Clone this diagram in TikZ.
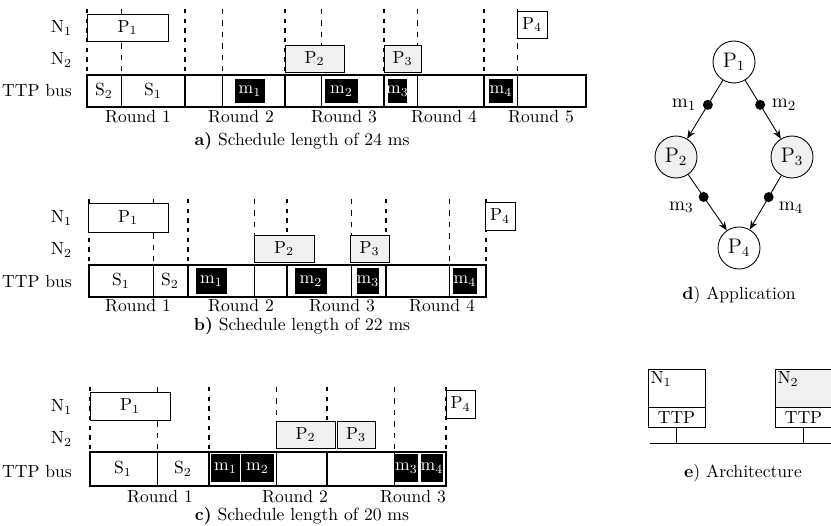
\documentclass[tikz,border=0pt]{standalone}
\usepackage{amsmath}
\usetikzlibrary{arrows.meta, fit, positioning}

\newcommand{\ptask}[1]{$\mathrm{P}_{#1}$}
\newcommand{\mmsg}[1]{$\mathrm{m}_{#1}$}
\newcommand{\slt}[1]{$\mathrm{S}_{#1}$}
\newcommand{\nde}[1]{$\mathrm{N}_{#1}$}

\tikzset{
  proc/.style={draw, fill=white, inner sep=0pt, line width=0.5pt, label={center:#1}},
  proc/.default={},
  procg/.style={proc=#1, fill=gray!12},
  procg/.default={},
  msg/.style={fill=black, inner sep=0pt, label={[text=white]center:#1}},
  rowlbl/.style={anchor=east, inner sep=1pt},
  rndline/.style={line width=1.1pt, dash pattern=on 2.5pt off 3pt},
  slotline/.style={line width=0.4pt, dash pattern=on 3pt off 3.5pt},
  rndbar/.style={line width=1pt},
  slotbar/.style={line width=0.4pt},
  task/.style={circle, draw, minimum size=0.84cm, inner sep=0pt, line width=0.5pt,
    font=\fontsize{12}{13}\selectfont},
  dot/.style={circle, fill=black, minimum size=0.2cm, inner sep=0pt},
  flow/.style={-{Stealth[length=5pt,width=4pt]}, line width=0.5pt},
}

\begin{document}
\begin{tikzpicture}[x=0.02cm, y=-0.02cm, font=\fontsize{10}{11}\selectfont]
        \useasboundingbox (0,0) rectangle (831,526);

        % a) Schedule of 24 ms
        \node[rowlbl] (a-n1) at (74,28) {\nde{1}};
        \node[rowlbl] (a-n2) at (74,60) {\nde{2}};
        \node[rowlbl] (a-bus) at (74,91) {TTP bus};
        \foreach \x in {87,185,285,384,484} \draw[rndline] (\x,9) -- (\x,75);
        \foreach \x in {121,222,321,417,517} \draw[slotline] (\x,9) -- (\x,75);
        \draw[line width=0.6pt] (87,75) rectangle (586,107);
        \foreach \x in {87,185,285,384,484} \draw[rndbar] (\x,75) -- (\x,107);
        \foreach \x in {121,222,321,417,517} \draw[slotbar] (\x,75) -- (\x,107);
        \node (a-s2) at (104,91) {\slt{2}};
        \node (a-s1) at (153,91) {\slt{1}};
        \node[proc=\ptask{1}, fit={(87,14) (168,41)}] (a-p1) {};
        \node[procg=\ptask{2}, fit={(285,45) (344,72)}] (a-p2) {};
        \node[procg=\ptask{3}, fit={(384,45) (421,72)}] (a-p3) {};
        \node[proc=\ptask{4}, fit={(517,11) (547,38)}] (a-p4) {};
        \node[msg=\mmsg{1}, fit={(235,79) (265,103)}] (a-m1) {};
        \node[msg=\mmsg{2}, fit={(325,79) (358,103)}] (a-m2) {};
        \node[msg=\mmsg{3}, fit={(388,79) (407,103)}] (a-m3) {};
        \node[msg=\mmsg{4}, fit={(489,79) (513,103)}] (a-m4) {};
        \foreach \x/\r in {138/1,241/2,344/3,444/4,541/5}
            \node (a-r\r) at (\x,117) {Round \r};
        \node (a-cap) at (302,141) {\textbf{a)} Schedule length of 24 ms};

        % b) Schedule of 22 ms
        \node[rowlbl] (b-n1) at (74,218) {\nde{1}};
        \node[rowlbl] (b-n2) at (74,250) {\nde{2}};
        \node[rowlbl] (b-bus) at (74,282) {TTP bus};
        \foreach \x in {89,188,287,386,486} \draw[rndline] (\x,199) -- (\x,265);
        \foreach \x in {153,254,351,449} \draw[slotline] (\x,199) -- (\x,265);
        \draw[line width=0.6pt] (89,265) rectangle (486,297);
        \foreach \x in {89,188,287,386,486} \draw[rndbar] (\x,265) -- (\x,297);
        \foreach \x in {153,254,351,449} \draw[slotbar] (\x,265) -- (\x,297);
        \node (b-s1) at (121,281) {\slt{1}};
        \node (b-s2) at (170,281) {\slt{2}};
        \node[proc=\ptask{1}, fit={(88,203) (168,232)}] (b-p1) {};
        \node[procg=\ptask{2}, fit={(254,235) (314,262)}] (b-p2) {};
        \node[procg=\ptask{3}, fit={(350,235) (389,262)}] (b-p3) {};
        \node[proc=\ptask{4}, fit={(485,202) (515,230)}] (b-p4) {};
        \node[msg=\mmsg{1}, fit={(196,268) (227,294)}] (b-m1) {};
        \node[msg=\mmsg{2}, fit={(295,268) (327,294)}] (b-m2) {};
        \node[msg=\mmsg{3}, fit={(357,268) (379,294)}] (b-m3) {};
        \node[msg=\mmsg{4}, fit={(453,268) (477,294)}] (b-m4) {};
        \foreach \x/\r in {138/1,241/2,342/3,442/4}
            \node (b-r\r) at (\x,306) {Round \r};
        \node (b-cap) at (302,326) {\textbf{b)} Schedule length of 22 ms};

        % c) Schedule of 20 ms
        \node[rowlbl] (c-n1) at (74,407) {\nde{1}};
        \node[rowlbl] (c-n2) at (74,439) {\nde{2}};
        \node[rowlbl] (c-bus) at (74,471) {TTP bus};
        \foreach \x in {90,209,327,446} \draw[rndline] (\x,387) -- (\x,452);
        \foreach \x in {157,276,394} \draw[slotline] (\x,387) -- (\x,452);
        \draw[line width=0.6pt] (90,452) rectangle (446,486);
        \foreach \x in {90,209,327,446} \draw[rndbar] (\x,452) -- (\x,486);
        \foreach \x in {157,276,394} \draw[slotbar] (\x,452) -- (\x,486);
        \node (c-s1) at (123,469) {\slt{1}};
        \node (c-s2) at (183,469) {\slt{2}};
        \node[proc=\ptask{1}, fit={(90,392) (170,420)}] (c-p1) {};
        \node[procg=\ptask{2}, fit={(276,421) (335,448)}] (c-p2) {};
        \node[procg=\ptask{3}, fit={(337,421) (375,448)}] (c-p3) {};
        \node[proc=\ptask{4}, fit={(446,390) (475,418)}] (c-p4) {};
        \node[msg=\mmsg{1}, fit={(211,454) (240,482)}] (c-m1) {};
        \node[msg=\mmsg{2}, fit={(241,454) (274,482)}] (c-m2) {};
        \node[msg=\mmsg{3}, fit={(395,454) (418,482)}] (c-m3) {};
        \node[msg=\mmsg{4}, fit={(421,454) (443,482)}] (c-m4) {};
        \foreach \x/\r in {160/1,295/2,413/3}
            \node (c-r\r) at (\x,497) {Round \r};
        \node (c-cap) at (302,516) {\textbf{c)} Schedule length of 20 ms};

        % d) Application
        \node[task] (t1) at (734,62) {\ptask{1}};
        \node[task, fill=gray!12] (t2) at (676,157) {\ptask{2}};
        \node[task, fill=gray!12] (t3) at (792,157) {\ptask{3}};
        \node[task] (t4) at (739,248) {\ptask{4}};
        \draw[flow] (t1) -- node[dot, pos=0.42, label={[font=\fontsize{11}{12}\selectfont]left:\mmsg{1}}] (d1) {} (t2);
        \draw[flow] (t1) -- node[dot, pos=0.42, label={[font=\fontsize{11}{12}\selectfont]right:\mmsg{2}}] (d2) {} (t3);
        \draw[flow] (t2) -- node[dot, pos=0.4, label={[font=\fontsize{11}{12}\selectfont, yshift=3pt]below left:\mmsg{3}}] (d3) {} (t4);
        \draw[flow] (t3) -- node[dot, pos=0.4, label={[font=\fontsize{11}{12}\selectfont, yshift=3pt]below right:\mmsg{4}}] (d4) {} (t4);
        \node (d-cap) at (739,295) {\textbf{d}) Application};

        % e) Architecture
        \node[proc, fit={(648,369) (705,407)}] (n1) {};
        \node[anchor=north west, inner sep=1.5pt] (n1-lbl) at (n1.north west) {\nde{1}};
        \node[proc=TTP, fit={(648,407) (705,427)}] (n1-ttp) {};
        \node[procg, fit={(775,369) (832,407)}] (n2) {};
        \node[anchor=north west, inner sep=1.5pt] (n2-lbl) at (n2.north west) {\nde{2}};
        \node[proc=TTP, fit={(775,407) (832,427)}] (n2-ttp) {};
        \coordinate (bus-l) at (650,443);
        \coordinate (bus-r) at (831,443);
        \draw[line width=0.5pt] (bus-l) -- (bus-r);
        \draw[line width=0.4pt] (n1-ttp.south) -- (n1-ttp.south |- bus-l);
        \draw[line width=0.4pt] (n2-ttp.south) -- (n2-ttp.south |- bus-l);
        \node (e-cap) at (743,473) {\textbf{e}) Architecture};
\end{tikzpicture}
\end{document}
